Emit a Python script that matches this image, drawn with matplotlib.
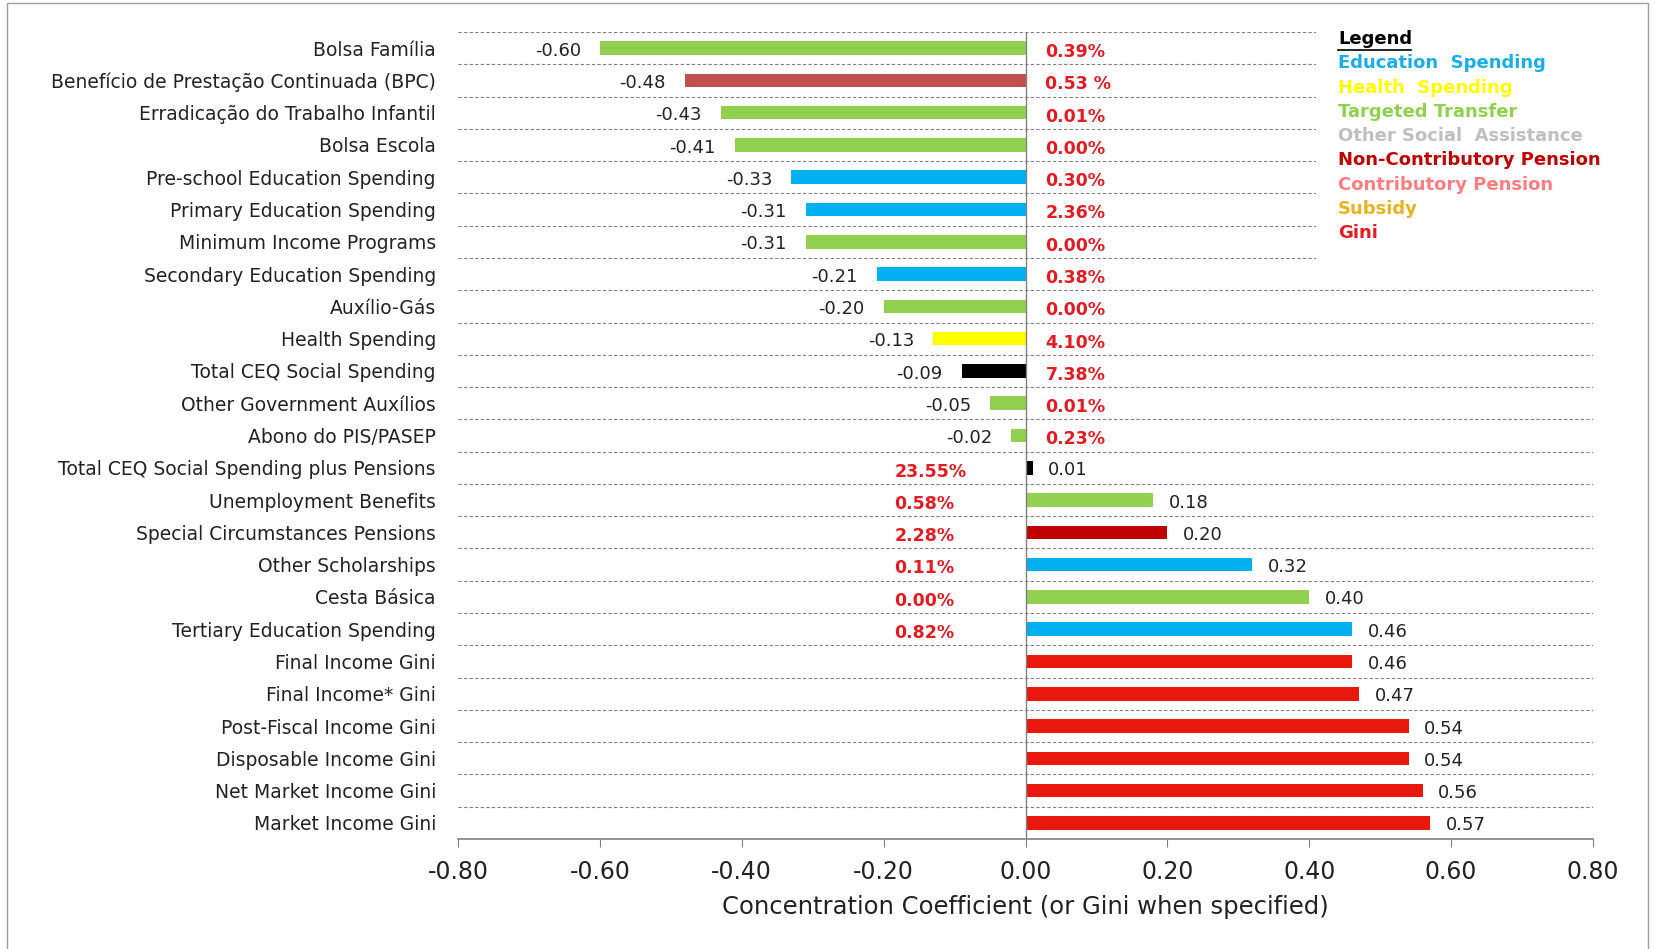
import matplotlib.pyplot as plt
from matplotlib.patches import Rectangle
from matplotlib.lines import Line2D

# categories top to bottom
categories = ['Bolsa Família', 'Benefício de Prestação Continuada (BPC)',
              'Erradicação do Trabalho Infantil', 'Bolsa Escola',
              'Pre-school Education Spending', 'Primary Education Spending',
              'Minimum Income Programs', 'Secondary Education Spending',
              'Auxílio-Gás', 'Health Spending', 'Total CEQ Social Spending',
              'Other Government Auxílios', 'Abono do PIS/PASEP',
              'Total CEQ Social Spending plus Pensions', 'Unemployment Benefits',
              'Special Circumstances Pensions', 'Other Scholarships', 'Cesta Básica',
              'Tertiary Education Spending', 'Final Income Gini', 'Final Income* Gini',
              'Post-Fiscal Income Gini', 'Disposable Income Gini',
              'Net Market Income Gini', 'Market Income Gini']
values = [-0.60, -0.48, -0.43, -0.41, -0.33, -0.31, -0.31, -0.21, -0.20, -0.13,
          -0.09, -0.05, -0.02, 0.01, 0.18, 0.20, 0.32, 0.40, 0.46,
          0.46, 0.47, 0.54, 0.54, 0.56, 0.57]
shares = ['0.39%', '0.53 %', '0.01%', '0.00%', '0.30%', '2.36%', '0.00%', '0.38%',
          '0.00%', '4.10%', '7.38%', '0.01%', '0.23%', '23.55%', '0.58%', '2.28%',
          '0.11%', '0.00%', '0.82%', '', '', '', '', '', '']
kinds = ['targeted', 'noncontrib', 'targeted', 'targeted', 'education', 'education',
         'targeted', 'education', 'targeted', 'health', 'total', 'targeted', 'targeted',
         'total', 'targeted', 'noncontrib_dark', 'education', 'targeted', 'education',
         'gini', 'gini', 'gini', 'gini', 'gini', 'gini']

bar_colors = {'targeted': '#92D050', 'noncontrib': '#C0504D', 'education': '#00B0F0',
              'health': '#FFFF00', 'total': '#000000', 'noncontrib_dark': '#C00000',
              'gini': '#E8190C'}

legend_items = [('Education  Spending', '#1CADE4'), ('Health  Spending', '#FFFF00'),
                ('Targeted Transfer', '#92D050'), ('Other Social  Assistance', '#BFBFBF'),
                ('Non-Contributory Pension', '#C00000'), ('Contributory Pension', '#FF7C80'),
                ('Subsidy', '#E6B422'), ('Gini', '#E31B23')]

fig = plt.figure(figsize=(16.55, 9.49), dpi=100)
ax = fig.add_axes([0.2768, 0.1159, 0.6857, 0.8504])

ypos = list(range(len(categories)))
ax.barh(ypos, values, height=0.42, color=[bar_colors[k] for k in kinds], zorder=3)

# dashed row separators
for i in range(len(categories)):
    ax.axhline(i - 0.5, color='#808080', linestyle=(0, (3, 2)), linewidth=0.8, zorder=1)

# white area behind legend
ax.add_patch(Rectangle((0.41, -0.7), 0.42, 7.6, facecolor='white', edgecolor='none',
                       zorder=2, clip_on=False))

ax.axvline(0, color='#808080', linewidth=1, zorder=4)

for y, v, s in zip(ypos, values, shares):
    if v < 0:
        ax.text(v - 0.027, y + 0.08, f'{v:.2f}', ha='right', va='center', fontsize=13,
                color='#222222', zorder=5)
        if s:
            ax.text(0.028, y + 0.12, s, ha='left', va='center', fontsize=12.5,
                    color='#E31B23', fontweight='bold', zorder=5)
    else:
        ax.text(v + 0.022, y + 0.08, f'{v:.2f}', ha='left', va='center', fontsize=13,
                color='#222222', zorder=5)
        if s:
            ax.text(-0.185, y + 0.12, s, ha='left', va='center', fontsize=12.5,
                    color='#E31B23', fontweight='bold', zorder=5)

ax.set_ylim(len(categories) - 0.5, -0.5)
ax.set_xlim(-0.8, 0.8)
ax.set_yticks(ypos)
ax.set_yticklabels(categories, fontsize=13.5, color='#222222')
ax.tick_params(axis='y', length=0, pad=16)
xt = [-0.8, -0.6, -0.4, -0.2, 0.0, 0.2, 0.4, 0.6, 0.8]
ax.set_xticks(xt)
ax.set_xticklabels([f'{t:.2f}' for t in xt], fontsize=17, color='#222222')
ax.tick_params(axis='x', length=6, color='#808080', direction='out', pad=9)
ax.set_xlabel('Concentration Coefficient (or Gini when specified)', fontsize=17.5,
              color='#222222', labelpad=8)
for side in ['left', 'right', 'top']:
    ax.spines[side].set_visible(False)
ax.spines['bottom'].set_color('#808080')
ax.spines['bottom'].set_linewidth(1.2)

# legend as coloured text
lx = 1338 / 1655
ly0 = 1 - 39 / 949
step = 24.3 / 949
fig.text(lx, ly0, 'Legend', fontsize=13, fontweight='bold', color='black',
         va='center', ha='left')
fig.add_artist(Line2D([lx, lx + 73 / 1655], [ly0 - 11 / 949, ly0 - 11 / 949],
                      color='black', linewidth=1.2))
for i, (name, col) in enumerate(legend_items):
    fig.text(lx, ly0 - (i + 1) * step, name, fontsize=13, fontweight='bold', color=col,
             va='center', ha='left')

# thin frame around the picture
fig.add_artist(Rectangle((7 / 1655, -0.01), 1 - 14 / 1655, 1 - 3 / 949 + 0.01,
                         transform=fig.transFigure, fill=False, edgecolor='#A0A0A0',
                         linewidth=1))

fig.savefig('out.png', dpi=100)
